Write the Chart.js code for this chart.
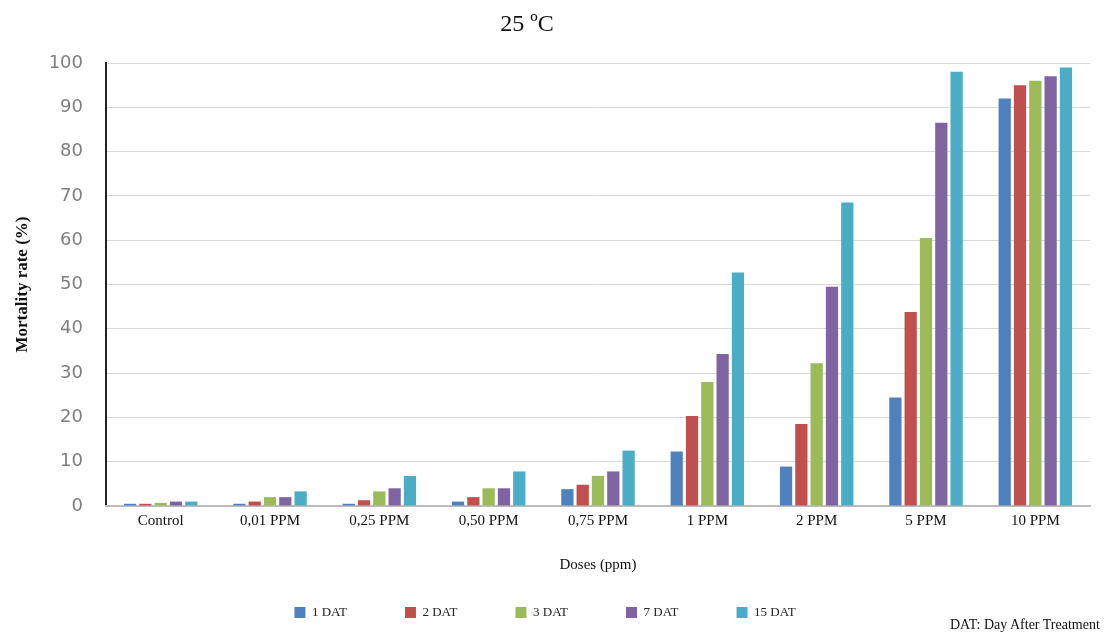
<!DOCTYPE html>
<html>
<head>
<meta charset="utf-8">
<script src="https://cdn.jsdelivr.net/npm/chart.js@4"></script>
<style>
    html, body { margin: 0; padding: 0; background: #ffffff; }
    #wrap { position: relative; width: 1111px; height: 634px; }
    #note {
        position: absolute; left: 950px; top: 617px;
        font-family: 'Liberation Serif', serif; font-size: 14px; color: #111;
    }
</style>
</head>
<body>
<div id="wrap">
    <canvas id="mortality-chart" width="1111" height="634"></canvas>
    <div id="note">DAT: Day After Treatment</div>
</div>
<script>
// Categories and series
const doses = ['Control', '0,01 PPM', '0,25 PPM', '0,50 PPM', '0,75 PPM', '1 PPM', '2 PPM', '5 PPM', '10 PPM'];
const dat1 = [0.5, 0.5, 0.5, 1, 3.8, 12.3, 8.9, 24.5, 92];
const dat2 = [0.5, 1, 1.3, 2, 4.8, 20.3, 18.5, 43.8, 95];
const dat3 = [0.7, 2, 3.3, 4, 6.8, 28, 32.2, 60.5, 96];
const dat7 = [1, 2, 4, 4, 7.8, 34.3, 49.5, 86.5, 97];
const dat15 = [1, 3.3, 6.8, 7.8, 12.5, 52.7, 68.5, 98, 99];
const yTicks = [0, 10, 20, 30, 40, 50, 60, 70, 80, 90, 100];
const chartTitle = '25 ºC';

// Office style colours
const seriesColors = {
    d1: '#4f81bd',
    d2: '#c0504d',
    d3: '#9bbb59',
    d7: '#8064a2',
    d15: '#4bacc6'
};

const serif = "'Liberation Serif', 'Times New Roman', serif";

// Title sits a bit left of the canvas centre, so draw it by hand
const titlePlugin = {
    id: 'offsetTitle',
    afterDraw(chart) {
        const ctx = chart.ctx;
        ctx.save();
        ctx.font = '24px ' + serif;
        ctx.fillStyle = '#111';
        ctx.textAlign = 'center';
        ctx.textBaseline = 'middle';
        ctx.fillText(chartTitle, 527, 25);
        ctx.restore();
    }
};

function makeSet(label, data, color) {
    return {
        label: label,
        data: data,
        backgroundColor: color,
        borderWidth: 0,
        categoryPercentage: 0.7,
        barPercentage: 0.8
    };
}

new Chart(document.getElementById('mortality-chart'), {
    type: 'bar',
    data: {
        labels: doses,
        datasets: [
            makeSet('1 DAT', dat1, seriesColors.d1),
            makeSet('2 DAT', dat2, seriesColors.d2),
            makeSet('3 DAT', dat3, seriesColors.d3),
            makeSet('7 DAT', dat7, seriesColors.d7),
            makeSet('15 DAT', dat15, seriesColors.d15)
        ]
    },
    plugins: [titlePlugin],
    options: {
        responsive: false,
        animation: false,
        layout: {
            padding: { left: 0, right: 21, top: 63, bottom: 5 }
        },
        plugins: {
            title: { display: false },
            legend: {
                position: 'bottom',
                labels: {
                    color: '#222',
                    boxWidth: 11,
                    boxHeight: 11,
                    padding: 58,
                    font: { family: serif, size: 13 }
                }
            },
            tooltip: { enabled: false }
        },
        scales: {
            y: {
                min: 0,
                max: 100,
                afterFit: function(scale) { scale.width = 106; },
                afterBuildTicks: function(scale) {
                    scale.ticks = yTicks.map(v => ({ value: v }));
                },
                border: { display: true, color: '#222', width: 2 },
                grid: { color: '#d9d9d9', drawTicks: false },
                ticks: {
                    color: '#7f7f7f',
                    padding: 23,
                    font: { family: "'DejaVu Sans', sans-serif", size: 18 }
                },
                title: {
                    display: true,
                    text: 'Mortality rate (%)',
                    color: '#111',
                    font: { family: serif, size: 17, weight: 'bold' },
                    padding: { top: 12, bottom: 0 }
                }
            },
            x: {
                border: { display: true, color: '#bdbdbd', width: 2 },
                grid: { display: false, drawTicks: false },
                ticks: {
                    color: '#111',
                    padding: 6,
                    font: { family: serif, size: 15 }
                },
                title: {
                    display: true,
                    text: 'Doses (ppm)',
                    color: '#111',
                    font: { family: serif, size: 15 },
                    padding: { top: 20, bottom: -26 }
                }
            }
        }
    }
});
</script>
</body>
</html>
